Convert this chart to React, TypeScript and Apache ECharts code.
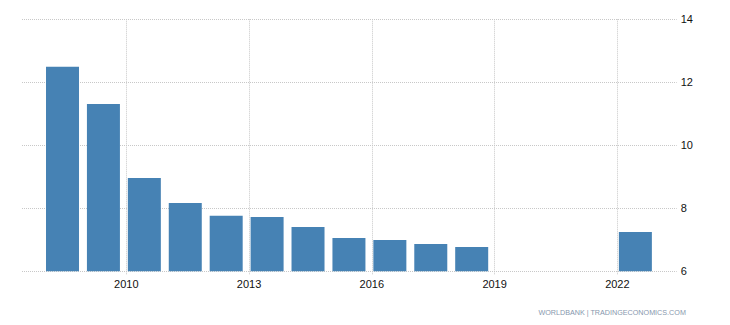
import React, { useEffect, useRef } from "react";
import * as echarts from "echarts";

const years = [2008, 2009, 2010, 2011, 2012, 2013, 2014, 2015, 2016, 2017, 2018, 2022];
const values = [12.49, 11.31, 8.96, 8.17, 7.76, 7.72, 7.41, 7.06, 6.99, 6.87, 6.77, 7.25];
const xTicks = [2010, 2013, 2016, 2019, 2022];
const yTicks = [6, 8, 10, 12, 14];
const sourceText = "WORLDBANK | TRADINGECONOMICS.COM";

export default function App() {
  const ref = useRef<HTMLDivElement>(null);
  useEffect(() => {
    document.body.style.margin = "0";
    const chart = echarts.init(ref.current!, null, { renderer: "svg" });
    const font = "Arial, 'Liberation Sans', sans-serif";
    chart.setOption({
      animation: false,
      grid: { left: 22, right: 53.3, top: 19.3, bottom: 53.7, containLabel: false },
      xAxis: {
        type: "value",
        min: 2007.45,
        max: 2023.45,
        axisLine: { show: false },
        axisTick: {
          show: true,
          customValues: xTicks,
          length: 4,
          lineStyle: { color: "#c8c8c8", type: [1, 1], width: 1 },
        },
        axisLabel: {
          customValues: xTicks,
          color: "#111",
          fontSize: 11,
          fontFamily: font,
          margin: 7,
          formatter: (v: number) => String(v),
        },
        splitLine: {
          show: true,
          customValues: xTicks,
          lineStyle: { color: "#c8c8c8", type: [1, 1], width: 1 },
        },
      },
      yAxis: {
        type: "value",
        position: "right",
        min: yTicks[0],
        max: yTicks[yTicks.length - 1],
        interval: 2,
        axisLine: { show: false },
        axisTick: { show: false },
        axisLabel: { color: "#111", fontSize: 11, fontFamily: font, margin: 4 },
        splitLine: { show: true, lineStyle: { color: "#c8c8c8", type: [1, 1], width: 1 } },
      },
      series: [
        {
          type: "bar",
          data: years.map((y, i) => [y + 0.44, values[i]]),
          barWidth: 33,
          itemStyle: { color: "#4682b4" },
        },
      ],
      graphic: [
        {
          type: "text",
          right: 44,
          top: 309,
          style: { text: sourceText, fill: "#8797ad", fontSize: 7.2, fontFamily: font },
        },
      ],
    });
    return () => chart.dispose();
  }, []);
  return <div ref={ref} style={{ width: 730, height: 325 }} />;
}
